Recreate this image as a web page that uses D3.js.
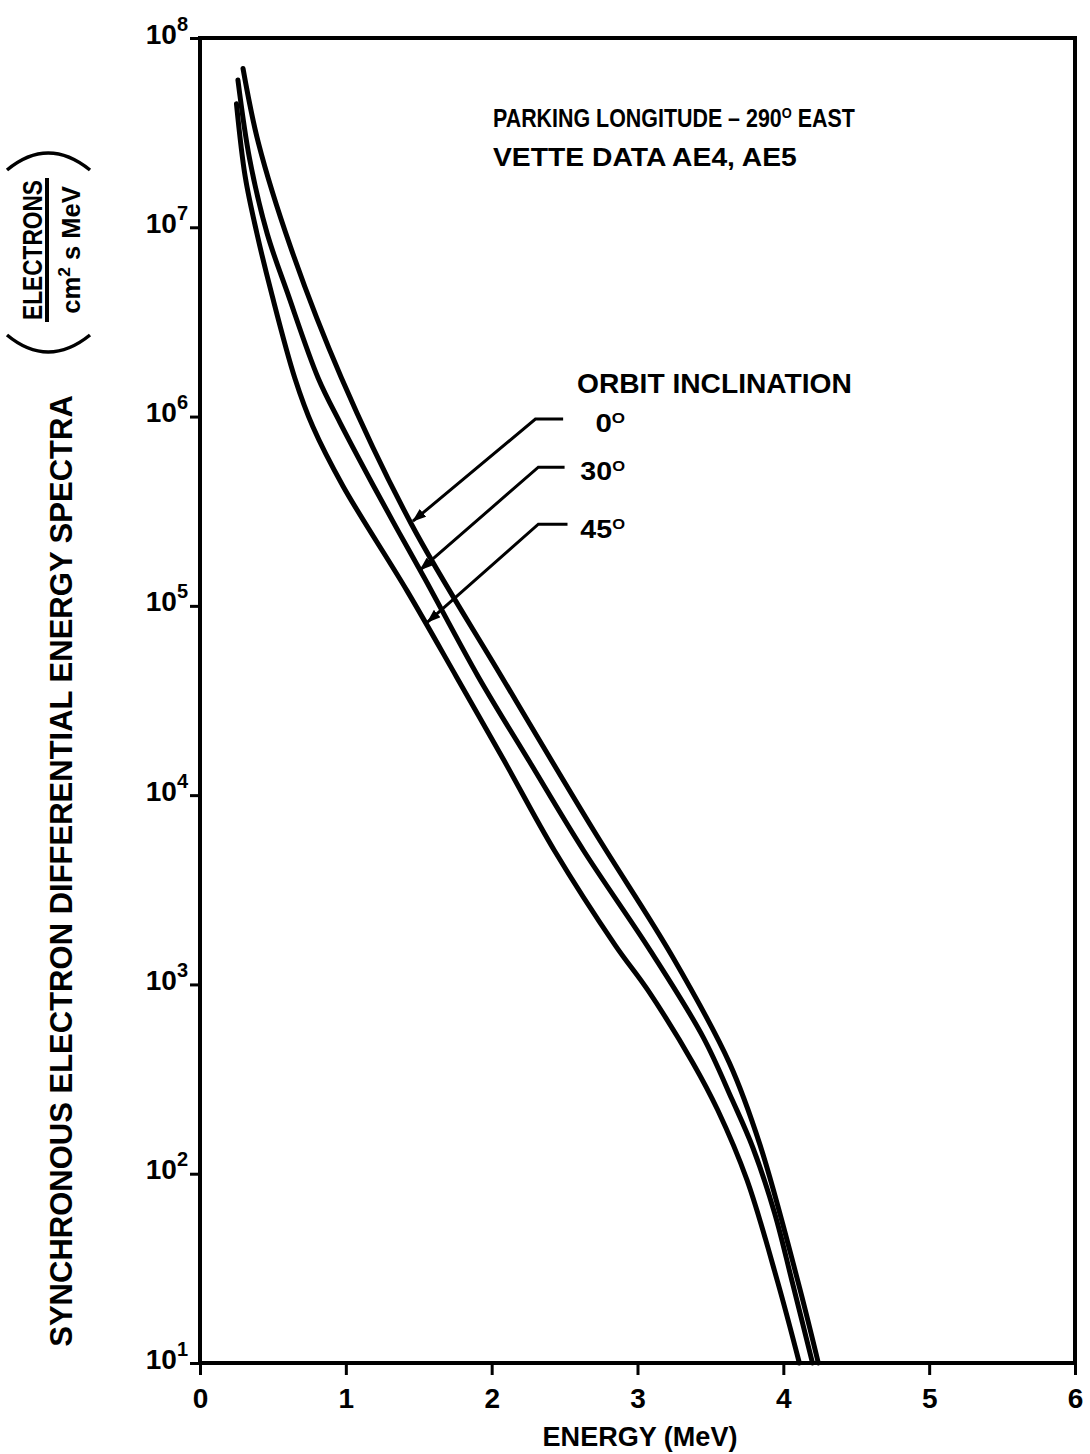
<!DOCTYPE html>
<html>
<head>
<meta charset="utf-8">
<script src="https://cdn.jsdelivr.net/npm/d3@7"></script>
<style>
  body { margin: 0; background: #fff; }
  text { font-family: "Liberation Sans", Arial, sans-serif; font-weight: bold; fill: #000; }
</style>
</head>
<body>
<div id="chart"></div>
<script>
// tick values
const xTicks = [0, 1, 2, 3, 4, 5, 6];
const yExponents = [1, 2, 3, 4, 5, 6, 7, 8];

// orbit inclination curves (energy MeV, flux)
const energy0 = [0.295, 0.40, 0.62, 0.97, 1.45, 2.07, 2.70, 3.24, 3.63, 3.84, 4.10, 4.24];
const flux0 = [6.9e7, 2.8e7, 7.9e6, 1.6e6, 2.7e5, 4.2e4, 6.5e3, 1.4e3, 385, 142, 27, 10];

const energy30 = [0.26, 0.34, 0.46, 0.60, 0.81, 0.96, 1.19, 1.37, 1.54, 1.91, 2.26, 2.63, 3.09, 3.45, 3.65, 3.79, 3.94, 4.06, 4.20];
const flux30 = [6.0e7, 2.3e7, 9.3e6, 4.5e6, 1.6e6, 9.3e5, 4.3e5, 2.4e5, 1.4e5, 4.2e4, 1.5e4, 5.1e3, 1.5e3, 527, 245, 138, 62, 27, 10];

const energy45 = [0.25, 0.31, 0.39, 0.49, 0.65, 0.775, 0.98, 1.42, 1.76, 2.09, 2.43, 2.85, 3.07, 3.38, 3.55, 3.75, 3.96, 4.11];
const flux45 = [4.5e7, 1.85e7, 9.3e6, 4.5e6, 1.6e6, 8.8e5, 4.3e5, 1.2e5, 4.2e4, 1.5e4, 5.1e3, 1.6e3, 935, 385, 217, 93, 27, 10];

// leader arrows (data units): tip on curve, elbow, end near label
const inclinations = ["0", "30", "45"];
const leaderTipE = [1.46, 1.51, 1.56];
const leaderTipFlux = [2.8e5, 1.55e5, 8.2e4];
const leaderElbowE = [2.30, 2.32, 2.32];
const leaderElbowFlux = [9.7e5, 5.4e5, 2.7e5];
const leaderEndE = [2.49, 2.50, 2.52];

const svg = d3.select("#chart")
  .append("svg")
  .attr("width", 1090)
  .attr("height", 1454);

const margin = { top: 38, right: 15, bottom: 91, left: 200 };
const width = 1090 - margin.left - margin.right;
const height = 1454 - margin.top - margin.bottom;

const x = d3.scaleLinear().domain([0, 6]).range([margin.left, margin.left + width]);
const y = d3.scaleLog().domain([10, 1e8]).range([margin.top + height, margin.top]);

// text squeezed horizontally to a target width (the original type is condensed)
function fitText(tx, ty, rot, targetW, anchor, size, build) {
  const g = svg.append("g");
  const t = g.append("text").attr("text-anchor", anchor).attr("font-size", size);
  build(t);
  const w = t.node().getBBox().width;
  g.attr("transform", `translate(${tx},${ty}) rotate(${rot}) scale(${targetW / w},1)`);
  return g;
}

// frame
svg.append("rect")
  .attr("x", margin.left).attr("y", margin.top)
  .attr("width", width).attr("height", height)
  .attr("fill", "none").attr("stroke", "#000").attr("stroke-width", 4);

// x axis
svg.append("g")
  .attr("transform", `translate(0,${y(10)})`)
  .call(d3.axisBottom(x).tickValues(xTicks).tickSize(12).tickFormat(d3.format("d")))
  .call(g => g.select(".domain").remove())
  .call(g => g.selectAll(".tick line").attr("stroke", "#000").attr("stroke-width", 3))
  .call(g => g.selectAll(".tick text").attr("y", 45).attr("dy", 0).attr("font-size", 28));

// y axis
svg.append("g")
  .attr("transform", `translate(${margin.left},0)`)
  .call(d3.axisLeft(y).tickValues(yExponents.map(e => Math.pow(10, e))).tickSize(10).tickFormat(() => ""))
  .call(g => g.select(".domain").remove())
  .call(g => g.selectAll(".tick line").attr("stroke", "#000").attr("stroke-width", 3))
  .call(g => g.selectAll(".tick text")
    .attr("x", -12).attr("y", 5).attr("dy", 0)
    .attr("text-anchor", "end").attr("font-size", 28)
    .text("10")
    .append("tspan").attr("dy", -13).attr("font-size", 20)
    .text(d => Math.round(Math.log10(d))));

// curves
const line = d3.line()
  .x(d => x(d[0]))
  .y(d => y(d[1]))
  .curve(d3.curveCatmullRom.alpha(0.5));

const series = [
  d3.zip(energy0, flux0),
  d3.zip(energy30, flux30),
  d3.zip(energy45, flux45)
];

svg.append("g")
  .selectAll("path")
  .data(series)
  .enter()
  .append("path")
  .attr("d", line)
  .attr("fill", "none")
  .attr("stroke", "#000")
  .attr("stroke-width", 5)
  .attr("stroke-linecap", "round");

// arrowhead
svg.append("defs").append("marker")
  .attr("id", "arrow")
  .attr("markerUnits", "userSpaceOnUse")
  .attr("viewBox", "0 0 14 10")
  .attr("refX", 13).attr("refY", 5)
  .attr("markerWidth", 14).attr("markerHeight", 10)
  .attr("orient", "auto")
  .append("path")
  .attr("d", "M0,0 L14,5 L0,10 Z")
  .attr("fill", "#000");

svg.append("g")
  .selectAll("path")
  .data(inclinations)
  .enter()
  .append("path")
  .attr("d", (d, i) => d3.line()([
    [x(leaderEndE[i]), y(leaderElbowFlux[i])],
    [x(leaderElbowE[i]), y(leaderElbowFlux[i])],
    [x(leaderTipE[i]), y(leaderTipFlux[i])]
  ]))
  .attr("fill", "none")
  .attr("stroke", "#000")
  .attr("stroke-width", 3)
  .attr("marker-end", "url(#arrow)");

// inclination labels
const labelBase = [432, 480, 538];
const labelW = [30, 45, 45];
inclinations.forEach((d, i) => {
  fitText(625, labelBase[i], 0, labelW[i], "end", 26, t => {
    t.text(d);
    t.append("tspan").attr("dy", -9).attr("font-size", 15).text("O");
  });
});

fitText(577, 393, 0, 275, "start", 27, t => t.text("ORBIT INCLINATION"));

// header text
fitText(493, 127, 0, 362, "start", 25, t => {
  t.text("PARKING LONGITUDE \u2013 290");
  t.append("tspan").attr("dy", -9).attr("font-size", 15).text("O");
  t.append("tspan").attr("dy", 9).text(" EAST");
});
fitText(493, 166, 0, 304, "start", 25, t => t.text("VETTE DATA AE4, AE5"));

// x axis title
fitText(640, 1446, 0, 195, "middle", 28, t => t.text("ENERGY (MeV)"));

// y axis title with units fraction
fitText(72, 871, -90, 952, "middle", 32, t => t.text("SYNCHRONOUS ELECTRON DIFFERENTIAL ENERGY SPECTRA"));
fitText(42, 250, -90, 140, "middle", 27, t => t.text("ELECTRONS"));
fitText(80, 250, -90, 128, "middle", 25, t => {
  t.text("cm");
  t.append("tspan").attr("dy", -10).attr("font-size", 17).text("2");
  t.append("tspan").attr("dy", 10).text(" s MeV");
});
svg.append("line")
  .attr("x1", 47).attr("x2", 47).attr("y1", 178).attr("y2", 322)
  .attr("stroke", "#000").attr("stroke-width", 4);
svg.append("path")
  .attr("d", "M7,170 Q48,136 90,170")
  .attr("fill", "none").attr("stroke", "#000").attr("stroke-width", 3.5);
svg.append("path")
  .attr("d", "M7,335 Q48,369 90,335")
  .attr("fill", "none").attr("stroke", "#000").attr("stroke-width", 3.5);
</script>
</body>
</html>
